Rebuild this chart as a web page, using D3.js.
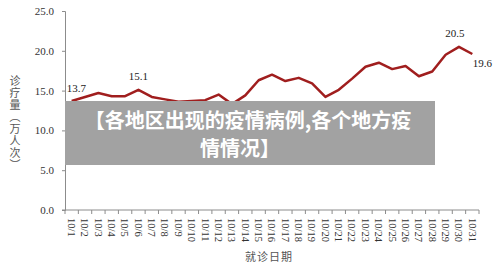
<!DOCTYPE html>
<html>
<head>
<meta charset="utf-8">
<script src="https://cdn.jsdelivr.net/npm/d3@7"></script>
<style>
  body { margin: 0; background: #fff; }
  svg { display: block; }
</style>
</head>
<body>
<div id="chart"></div>
<script>
// Daily outpatient visits (10k) for October
const dates = d3.range(1, 32).map(d => `10/${d}`);
const visits = [13.7, 14.2, 14.7, 14.3, 14.3, 15.1, 14.2, 13.9, 13.6, 13.7, 13.8,
    14.5, 13.3, 14.4, 16.3, 17.0, 16.2, 16.6, 15.9, 14.2, 15.1, 16.5, 18.0,
    18.5, 17.7, 18.1, 16.8, 17.4, 19.5, 20.5, 19.6];
const yTicks = [0, 5, 10, 15, 20, 25];
const labelled = ['10/1', '10/6', '10/30', '10/31'];

const W = 500, H = 267;
const margin = { top: 11, right: 21, bottom: 57, left: 65 };
const width = W - margin.left - margin.right;
const height = H - margin.top - margin.bottom;

const root = d3.select('#chart').append('svg')
    .attr('width', W)
    .attr('height', H);

const svg = root.append('g')
    .attr('transform', `translate(${margin.left},${margin.top})`);

const xScale = d3.scaleBand()
    .domain(dates)
    .range([0, width])
    .padding(0);

const yScale = d3.scaleLinear()
    .domain([0, 25])
    .range([height, 0]);

const serif = '"Liberation Serif", "DejaVu Serif", serif';
const cjk = '"Noto Sans CJK SC", sans-serif';
const axisColor = '#8c8c8c';

// Y axis
const yAxis = svg.append('g')
    .call(d3.axisLeft(yScale).tickValues(yTicks).tickSize(3).tickPadding(8)
        .tickFormat(d3.format('.1f')));
yAxis.select('.domain').attr('stroke', axisColor);
yAxis.selectAll('.tick line').attr('stroke', axisColor);
yAxis.selectAll('text')
    .style('font-family', serif)
    .style('font-size', '11px')
    .attr('fill', '#333');

// X axis (labels at band centres, ticks at band edges)
const xAxis = svg.append('g')
    .attr('transform', `translate(0,${height})`)
    .call(d3.axisBottom(xScale).tickSize(0).tickPadding(0));
xAxis.select('.domain').remove();
xAxis.selectAll('text')
    .attr('transform', 'rotate(90)')
    .attr('x', 8)
    .attr('y', 0)
    .attr('dy', '0.35em')
    .attr('text-anchor', 'start')
    .style('font-family', serif)
    .style('font-size', '10.5px')
    .attr('fill', '#333');

svg.append('line')
    .attr('x1', -3).attr('x2', width)
    .attr('y1', height).attr('y2', height)
    .attr('stroke', axisColor);

svg.selectAll('.xtick')
    .data(dates.concat(['end']))
    .enter()
    .append('line')
    .attr('class', 'xtick')
    .attr('x1', d => d === 'end' ? width : xScale(d))
    .attr('x2', d => d === 'end' ? width : xScale(d))
    .attr('y1', height)
    .attr('y2', height + 4)
    .attr('stroke', axisColor);

// Line
const line = d3.line()
    .x((d, i) => xScale(dates[i]) + xScale.bandwidth() / 2)
    .y(d => yScale(d));

svg.append('path')
    .datum(visits)
    .attr('fill', 'none')
    .attr('stroke', '#a01e1e')
    .attr('stroke-width', 2.5)
    .attr('stroke-linejoin', 'round')
    .attr('d', line);

// Value labels
const labelOffset = { '10/1': [-5, -9, 'start'], '10/6': [0, -10, 'middle'],
    '10/30': [-4, -10, 'middle'], '10/31': [10, 13, 'middle'] };
svg.selectAll('.value-label')
    .data(labelled)
    .enter()
    .append('text')
    .attr('class', 'value-label')
    .attr('x', d => xScale(d) + xScale.bandwidth() / 2 + labelOffset[d][0])
    .attr('y', d => yScale(visits[dates.indexOf(d)]) + labelOffset[d][1])
    .attr('text-anchor', d => labelOffset[d][2])
    .style('font-family', serif)
    .style('font-size', '11px')
    .attr('fill', '#222')
    .text(d => visits[dates.indexOf(d)].toFixed(1));

// Y title, vertical text
root.append('text')
    .attr('x', 15)
    .attr('y', 123)
    .attr('text-anchor', 'middle')
    .style('writing-mode', 'vertical-rl')
    .style('font-family', cjk)
    .style('font-size', '11px')
    .style('letter-spacing', '1px')
    .attr('fill', '#555')
    .text('诊疗量（万人次）');

root.append('text')
    .attr('x', 269)
    .attr('y', 261)
    .attr('text-anchor', 'middle')
    .style('font-family', cjk)
    .style('font-size', '11px')
    .style('letter-spacing', '1px')
    .attr('fill', '#555')
    .text('就诊日期');

// Caption overlay
root.append('rect')
    .attr('x', 65)
    .attr('y', 101)
    .attr('width', 370)
    .attr('height', 64)
    .attr('fill', '#a2a2a2');

const caption = ['【各地区出现的疫情病例,各个地方疫', '情情况】'];
const captionX = [248, 240];
root.selectAll('.caption')
    .data(caption)
    .enter()
    .append('text')
    .attr('class', 'caption')
    .attr('x', (d, i) => captionX[i])
    .attr('y', (d, i) => 128 + i * 28)
    .attr('text-anchor', 'middle')
    .style('font-family', cjk)
    .style('font-size', '20px')
    .style('font-weight', 'bold')
    .attr('fill', '#fff')
    .text(d => d);
</script>
</body>
</html>
